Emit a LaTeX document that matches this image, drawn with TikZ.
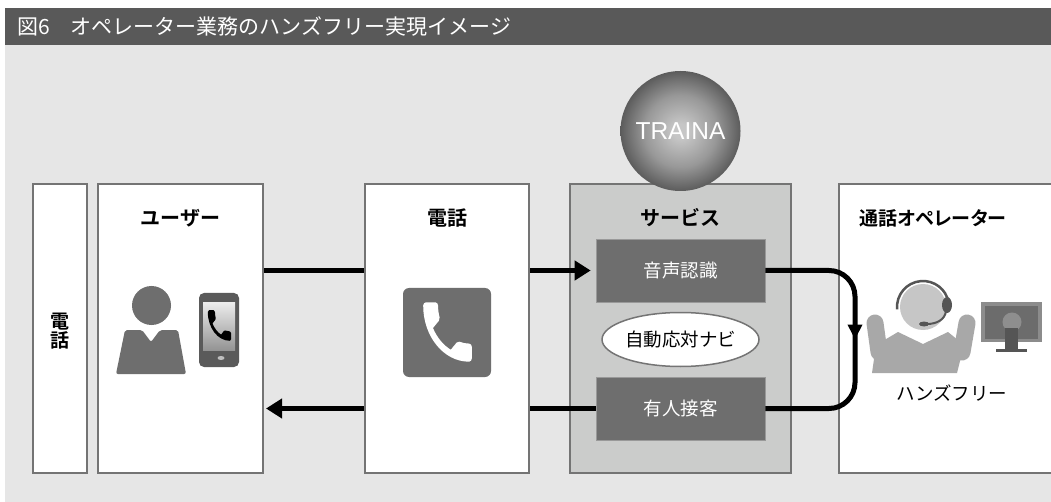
\documentclass[tikz,border=0pt]{standalone}
\usepackage{fontspec}
\setmainfont{Noto Sans CJK JP}[BoldFont={Noto Sans CJK JP Bold}]
\newfontfamily\jpprop{Noto Sans CJK JP}[BoldFont={Noto Sans CJK JP Bold}, RawFeature=+palt]
\newfontfamily\latinfont{Liberation Sans}
\usetikzlibrary{arrows.meta,decorations.markings,shapes.geometric}

\definecolor{pagebg}{HTML}{E6E6E6}
\definecolor{titlebar}{HTML}{595959}
\definecolor{frame}{HTML}{747474}
\definecolor{svcfill}{HTML}{CBCCCB}
\definecolor{darkbox}{HTML}{6E6E6E}
\definecolor{icongray}{HTML}{6E6E6E}
\definecolor{phonebody}{HTML}{5A5A5A}
\definecolor{bodygray}{HTML}{A8A8A8}
\definecolor{headgray}{HTML}{C6C6C6}
\definecolor{headset}{HTML}{555555}
\definecolor{monframe}{HTML}{8C8C8C}
\definecolor{monscreen}{HTML}{6C6C6C}
\definecolor{monglow}{HTML}{8E8E8E}
\definecolor{monstand}{HTML}{555555}
\definecolor{trainain}{HTML}{C6C6C6}
\definecolor{trainamid}{HTML}{989898}
\definecolor{trainaout}{HTML}{505050}

\pgfdeclareradialshading{trainaball}{\pgfpoint{0bp}{0bp}}{%
  color(0bp)=(trainain); color(3bp)=(trainain); color(15bp)=(trainamid);
  color(27bp)=(trainaout); color(50bp)=(trainaout)}

\tikzset{
  column/.style={draw=frame, line width=2pt, fill=white, inner sep=0pt,
    minimum height=289pt},
  header/.style={font=\bfseries\fontsize{20}{24}\selectfont, inner sep=0pt},
  svcbox/.style={fill=darkbox, draw=gray!80, line width=0.6pt, text=white,
    minimum width=169pt, minimum height=63pt, inner sep=0pt,
    font=\fontsize{18.5}{22}\selectfont},
  flow/.style={line width=5pt, black},
  tip/.style={-{Triangle[length=16pt,width=19pt]}},
  handset/.pic={
    \fill[#1] (-5.38,-1.21) .. controls (-3.94,1.62) and (-1.62,3.93) .. (1.21,5.38)
      -- (3.41,3.18) .. controls (3.68,2.91) and (4.08,2.82) .. (4.43,2.94)
      .. controls (5.55,3.31) and (6.76,3.51) .. (8,3.51)
      .. controls (8.55,3.51) and (9,3.96) .. (9,4.51)
      -- (9,8) .. controls (9,8.55) and (8.55,9) .. (8,9)
      .. controls (-1.39,9) and (-9,1.39) .. (-9,-8)
      .. controls (-9,-8.55) and (-8.55,-9) .. (-8,-9)
      -- (-4.5,-9) .. controls (-3.95,-9) and (-3.5,-8.55) .. (-3.5,-8)
      .. controls (-3.5,-6.75) and (-3.3,-5.55) .. (-2.93,-4.43)
      .. controls (-2.82,-4.08) and (-2.90,-3.69) .. (-3.18,-3.41) -- cycle;
  }
}

\begin{document}
\begin{tikzpicture}[x=1pt,y=-1pt]
\useasboundingbox (0,0) rectangle (1051,502);
\clip (0,0) rectangle (1051,502);

% page background and title bar
\fill[pagebg] (5,45) rectangle (1051,502);
\fill[titlebar] (5,8) rectangle (1051,45);
\node[anchor=west, text=white, inner sep=0pt, font=\fontsize{21}{24}\selectfont]
  (title) at (17,26.5) {図6　オペレーター業務のハンズフリー実現イメージ};

% columns
\node[column, minimum width=54pt] (side) at (60,328.5) {};
\node[column, minimum width=165pt] (user) at (180.5,328.5) {};
\node[column, minimum width=164pt] (phone) at (447,328.5) {};
\node[column, minimum width=221pt, fill=svcfill] (service) at (680.5,328.5) {};
\node[column, minimum width=240pt, anchor=west] (operator) at (838,328.5) {};

% column headers
\node[header, align=center, font=\bfseries\fontsize{19}{19}\selectfont] (sidelbl) at (60,331) {電\\話};
\node[header] (userhd) at (180.5,218) {ユーザー};
\node[header] (phonehd) at (447,218) {電話};
\node[header] (svchd) at (680.5,218) {サービス};
\node[header, font=\jpprop\bfseries\fontsize{19}{24}\selectfont] (ophd) at (933,218) {通話オペレーター};

% service contents
\node[svcbox] (recog) at (680.5,270.5) {音声認識};
\node[svcbox] (human) at (680.5,408.5) {有人接客};
\node[ellipse, draw=frame, line width=1.5pt, fill=white, minimum width=150pt,
  minimum height=54pt, inner sep=0pt, font=\fontsize{18.5}{22}\selectfont]
  (navi) at (680.5,339.5) {自動応対ナビ};

% TRAINA sphere
\node[circle, minimum size=120pt, inner sep=0pt, shading=trainaball, text=white,
  font=\latinfont\fontsize{24.5}{28}\selectfont] (traina) at (680.5,131) {TRAINA};

% call flow
\draw[flow] (user.east |- recog.west) -- (phone.west |- recog.west);
\draw[flow, tip, shorten >=5pt] (phone.east |- recog.west) -- (recog.west);
\draw[flow] (human.west) -- (phone.east |- human.west);
\draw[flow, tip, shorten >=2pt] (phone.west |- human.west) -- (user.east |- human.west);
\coordinate (loopx) at (855,0);
\draw[flow, rounded corners=26pt, postaction={decorate},
  decoration={markings, mark=at position 0.5 with {\arrow{Triangle[length=15pt,width=14pt]}}}]
  (recog.east) -- (recog.east -| loopx) -- (human.east -| loopx) -- (human.east);

% user icon
\fill[icongray] (151.5,305.5) circle[radius=19.5];
\fill[icongray, rounded corners=2pt] (116,374) -- (125,330) -- (142,330) -- (151,342)
  -- (160,330) -- (178,330) -- (186,374) -- cycle;

% smartphone
\fill[phonebody, rounded corners=5pt] (199,293) rectangle (239,367);
\shade[top color=white!92!black, bottom color=black!42] (203,303) rectangle (235,350);
\fill[white!75!black] (221,358) ellipse[x radius=3.5, y radius=2];
\pic[xscale=1.3, yscale=1.7] at (219.5,325.5) {handset=black};

% telephone icon
\fill[icongray, rounded corners=6pt] (403,288) rectangle (491,377);
\pic[xscale=2.7, yscale=3.3] at (447.5,332) {handset=white};

% operator with headset
\draw[bodygray, line width=17pt, line cap=round] (875,323) -- (879,352);
\draw[bodygray, line width=17pt, line cap=round] (967,323) -- (962,352);
\fill[bodygray] (872,373) -- (876,345) -- (898,332) -- (923,344) -- (948,332)
  -- (964,345) -- (957,373) -- cycle;
\fill[headgray] (923,307) circle[radius=23];
\draw[headset, line width=2.5pt] (923,307) ++(175:26) arc[start angle=175, end angle=350, radius=26];
\fill[headset] (947,305) ellipse[x radius=5, y radius=8];
\draw[headset, line width=2pt] (946,311) .. controls (945,320) and (936,324) .. (927,324);
\fill[headset] (924,324) ellipse[x radius=5, y radius=2.5];

% monitor
\fill[monframe] (981,302) rectangle (1042,342);
\fill[monscreen] (985,306) rectangle (1038,339);
\fill[monglow] (1012,322) circle[radius=9.5];
\fill[monstand] (1005,328) rectangle (1018,350);
\fill[monstand] (996,349) rectangle (1027,352);

\node[inner sep=0pt, font=\fontsize{18.5}{22}\selectfont] (handsfree) at (952,393) {ハンズフリー};
\end{tikzpicture}
\end{document}
